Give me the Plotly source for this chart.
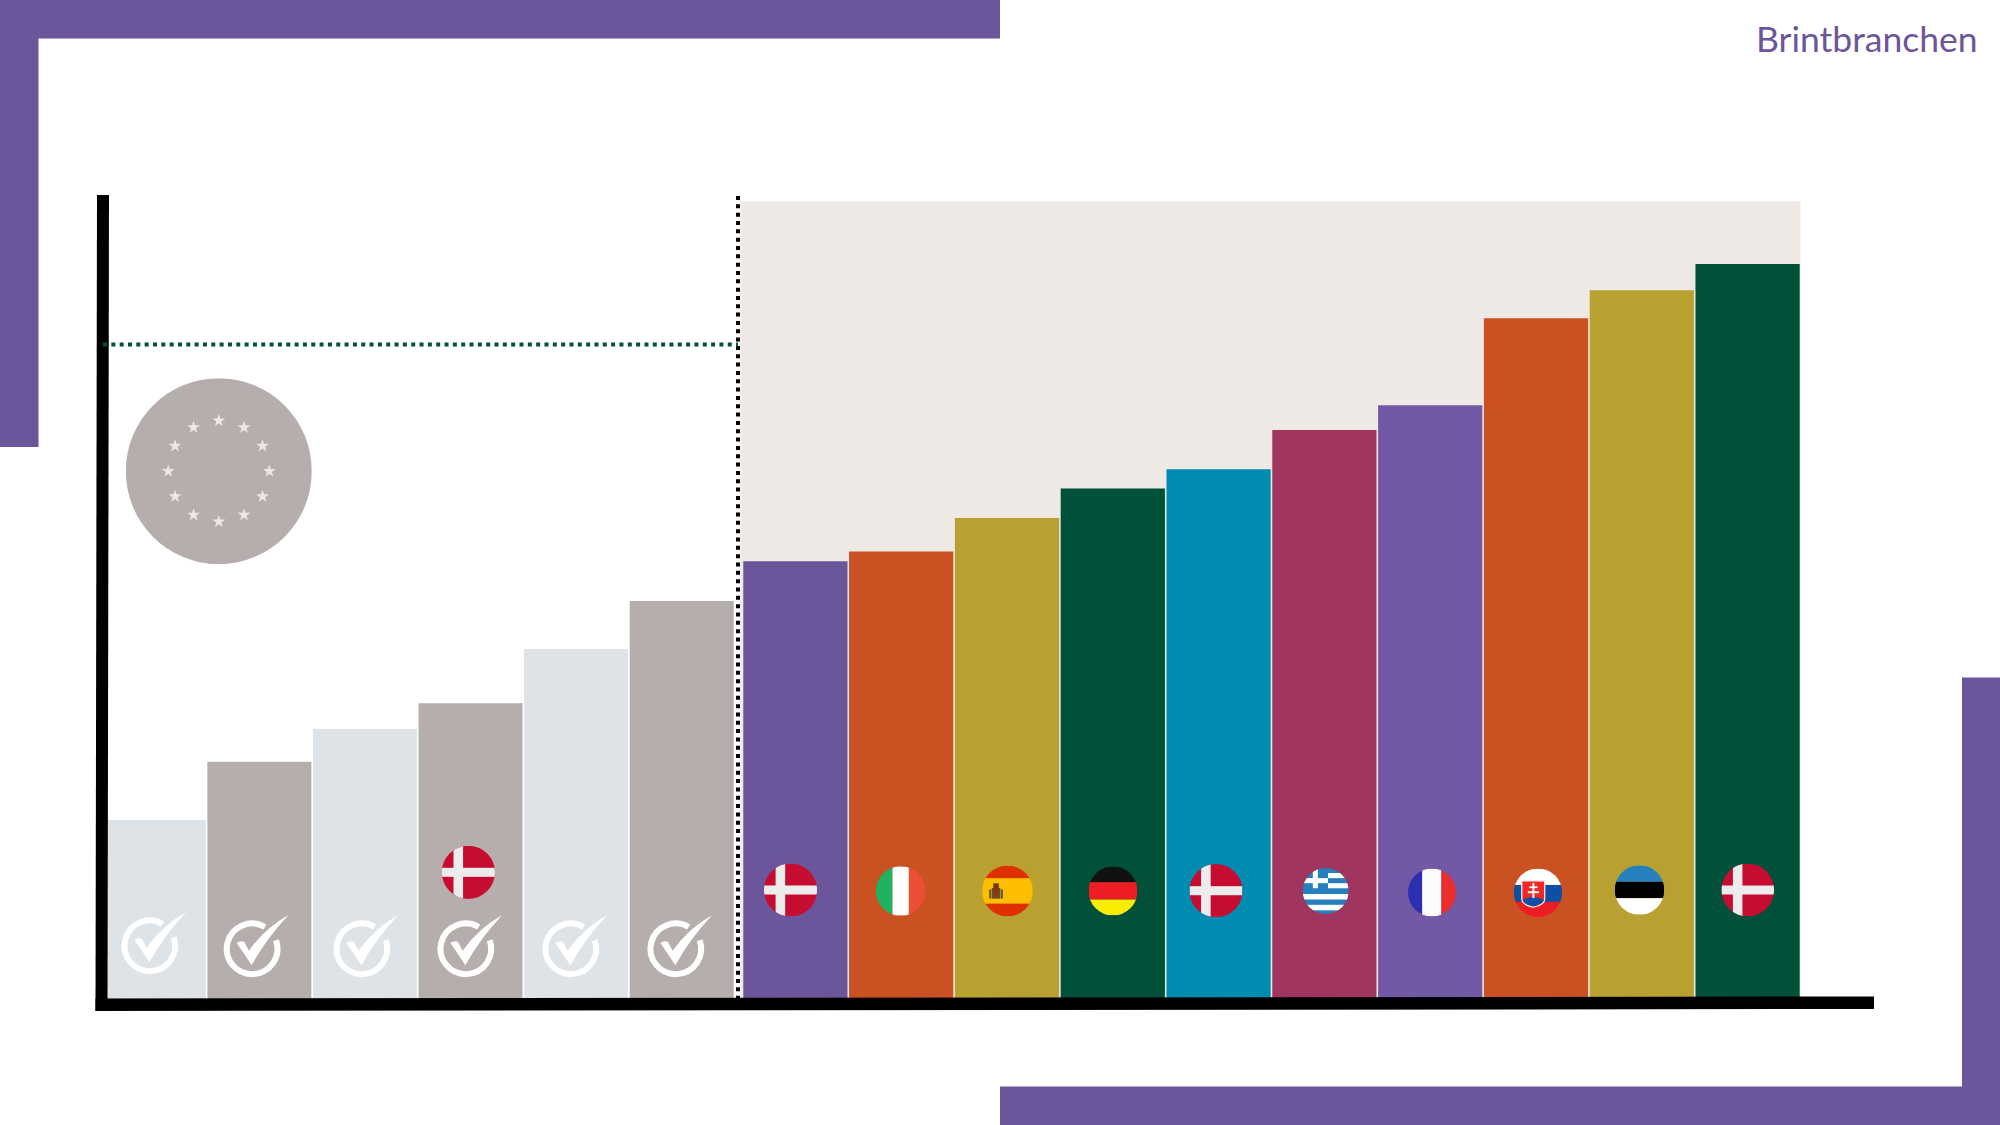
import base64, math
import plotly.graph_objects as go

W, H = 2000, 1125

# ---------- data ----------
approved_categories = ["Projekt 1", "Projekt 2", "Projekt 3", "Danmark A", "Projekt 5", "Projekt 6"]
approved_values = [22.4, 29.7, 33.8, 37.0, 43.8, 49.8]
approved_colors = ["#dde3e6", "#b6aeac", "#dde3e6", "#b6aeac", "#dde3e6", "#b6aeac"]

pending_categories = ["Danmark B", "Italien", "Spanien", "Tyskland", "Danmark C",
                      "Grækenland", "Frankrig", "Slovakiet", "Estland", "Danmark D"]
pending_values = [54.8, 56.0, 60.2, 63.9, 66.3, 71.2, 74.3, 85.2, 88.7, 92.0]
pending_colors = ["#6b559b", "#ca5122", "#b8a130", "#00503a", "#008bb0",
                  "#a0365f", "#7359a5", "#ca5122", "#b8a130", "#00503a"]

target_value = 81.9
brand = "Brintbranchen"
PURPLE = "#6b559b"


# ---------- helpers ----------
def fx(x):
    return x / W


def fy(y):
    return 1 - y / H


def rect(x0, y0, x1, y1, color):
    return dict(type="rect", xref="paper", yref="paper", x0=fx(x0), x1=fx(x1), y0=fy(y0), y1=fy(y1),
                fillcolor=color, line_width=0, layer="above")


def poly(points, color):
    d = "M " + " L ".join(f"{fx(x):.5f} {fy(y):.5f}" for x, y in points) + " Z"
    return dict(type="path", xref="paper", yref="paper", path=d, fillcolor=color, line_width=0, layer="above")


def uri(svg):
    return "data:image/svg+xml;base64," + base64.b64encode(svg.encode()).decode()


def flag_svg(body):
    return uri('<svg xmlns="http://www.w3.org/2000/svg" viewBox="-100 -100 200 200" width="200" height="200">'
               '<defs><clipPath id="c"><circle r="100"/></clipPath></defs>'
               f'<g clip-path="url(#c)">{body}</g></svg>')


def r(x0, y0, x1, y1, c):
    return f'<rect x="{x0}" y="{y0}" width="{x1 - x0}" height="{y1 - y0}" fill="{c}"/>'


def hbands(c1, c2, c3, a, b):
    return r(-100, -100, 100, a, c1) + r(-100, a, 100, b, c2) + r(-100, b, 100, 100, c3)


def vbands(c1, c2, c3, a, b):
    return r(-100, -100, a, 100, c1) + r(a, -100, b, 100, c2) + r(b, -100, 100, 100, c3)


DK = r(-100, -100, 100, 100, "#c60c30") + r(-56, -100, -20, 100, "#ececec") + r(-100, -17, 100, 17, "#ececec")
IT = vbands("#1fb25f", "#ffffff", "#ec4f37", -33, 33)
ES = (hbands("#e03000", "#ffbe00", "#e03000", -50, 50)
      + r(-62, -12, -28, 30, "#6e4a1c") + r(-56, -30, -34, -10, "#7a3a10")
      + r(-50, -8, -38, 14, "#a02818") + r(-72, -6, -64, 30, "#5c5a3a") + r(-26, -6, -18, 30, "#5c5a3a"))
DE = hbands("#111111", "#ee1c25", "#f9ed05", -36, 35)
GR = (r(-100, -100, 100, 100, "#2580bd")
      + r(10, -78, 100, -56, "#ffffff") + r(10, -34, 100, -12, "#ffffff")
      + r(-100, 13, 100, 37, "#ffffff") + r(-100, 60, 100, 84, "#ffffff")
      + r(-56, -100, -34, -12, "#ffffff") + r(-100, -56, 10, -34, "#ffffff"))
FR = vbands("#2b2fb0", "#fbfbfb", "#ec2d2d", -41, 39)
SK = (hbands("#ffffff", "#0f4fa3", "#ee1c25", -32, 38)
      + '<path d="M-67 -49 H28 V25 Q28 50 -19 60 Q-67 50 -67 25 Z" fill="#ee2a24" stroke="#f4f4f4" stroke-width="5"/>'
      + '<path d="M-63 30 Q-19 5 24 30 Q20 48 -19 56 Q-58 48 -63 30 Z" fill="#0f4fa3"/>'
      + r(-23, -40, -15, 22, "#ffffff") + r(-36, -26, -2, -19, "#ffffff") + r(-42, -6, 4, 2, "#ffffff"))
EE = hbands("#2580bd", "#000000", "#ffffff", -33, 33)

# centre x, centre y, radius in page pixels
flags = [
    (DK, 468.4, 872.3, 26.6), (DK, 790.5, 890, 26.6), (IT, 900.7, 891, 24.8),
    (ES, 1007.5, 891, 25.4), (DE, 1113, 891, 24.5), (DK, 1216, 890.7, 26.6),
    (GR, 1325.7, 891, 23), (FR, 1432, 892.5, 24), (SK, 1538, 892.7, 24.2),
    (EE, 1639.5, 890, 24.8), (DK, 1747.7, 890, 26.4),
]

check_svg = uri(
    '<svg xmlns="http://www.w3.org/2000/svg" viewBox="30 40 210 200" width="210" height="200">'
    '<path d="M165 82 A76 76 0 1 0 198 122" fill="none" stroke="#ffffff" stroke-width="18"/>'
    '<path d="M80 130 Q92 122 103 127 L117 153 Q165 85 236 46 Q170 115 125 197 Q105 165 80 130 Z" fill="#ffffff"/>'
    '</svg>')
checks = [(150, 946), (252.3, 949), (362, 949), (466, 949), (571, 949), (676, 949)]


def star(cx, cy, R):
    pts = []
    for k in range(10):
        a = -math.pi / 2 + k * math.pi / 5
        q = R if k % 2 == 0 else R * 0.382
        pts.append(f"{cx + q * math.cos(a):.2f},{cy + q * math.sin(a):.2f}")
    return f'<polygon points="{" ".join(pts)}" fill="#ece8e4"/>'


stars = "".join(star(50.5 * math.cos(k * math.pi / 6), 50.5 * math.sin(k * math.pi / 6), 6.8) for k in range(12))
eu_svg = uri('<svg xmlns="http://www.w3.org/2000/svg" viewBox="-93 -93 186 186" width="186" height="186">'
             f'<circle r="93" fill="#b6aeac"/>{stars}</svg>')


def image(src, x, y, w, h):
    return dict(source=src, xref="paper", yref="paper", x=fx(x), y=fy(y), sizex=w / W, sizey=h / H,
                xanchor="left", yanchor="top", sizing="stretch", layer="above")


images = [image(flag_svg(s), cx - rad, cy - rad, 2 * rad, 2 * rad) for s, cx, cy, rad in flags]
images += [image(check_svg, cx - 97 / 3, cy - 108 / 3, 70, 200 / 3) for cx, cy in checks]
images.append(image(eu_svg, 218.8 - 93, 471.2 - 93, 186, 186))

# ---------- figure ----------
fig = go.Figure()
fig.add_bar(x=approved_categories, y=approved_values, marker=dict(color=approved_colors, line=dict(width=0)),
            xaxis="x", yaxis="y", showlegend=False)
fig.add_bar(x=pending_categories, y=pending_values, marker=dict(color=pending_colors, line=dict(width=0)),
            xaxis="x2", yaxis="y", showlegend=False)

shapes = [
    # panel behind the right-hand bars
    dict(type="rect", xref="x2 domain", yref="y", x0=-0.002, x1=1, y0=0, y1=99.85, fillcolor="#eee9e5", line_width=0, layer="below"),
    # purple frame
    rect(0, 0, 1000, 38.5, PURPLE), rect(0, 0, 38.5, 447, PURPLE),
    rect(1000, 1086.5, 2000, 1125, PURPLE), rect(1962, 677.5, 2000, 1125, PURPLE),
    # axes
    poly([(97, 195), (109, 195), (107.5, 1011), (95.5, 1011)], "#000000"),
    poly([(95.5, 998.5), (1874, 996.5), (1874, 1009), (95.5, 1011)], "#000000"),
    # dotted divider and target
    dict(type="line", xref="paper", yref="paper", x0=fx(738), x1=fx(738), y0=fy(196), y1=fy(998),
         line=dict(color="#000000", width=4, dash="4px,4.33px"), layer="above"),
    dict(type="line", xref="paper", yref="y", x0=fx(103), x1=fx(738), y0=target_value, y1=target_value,
         line=dict(color="#00503a", width=4, dash="4px,4.33px"), layer="above"),
]

fig.update_layout(
    width=W, height=H, autosize=False,
    margin=dict(l=0, r=0, t=0, b=0),
    paper_bgcolor="#ffffff", plot_bgcolor="rgba(0,0,0,0)",
    bargap=0.015,
    xaxis=dict(domain=[fx(101), fx(734.5)], range=[-0.5, 5.5], visible=False, type="category", fixedrange=True),
    xaxis2=dict(domain=[fx(742.5), fx(1800.5)], range=[-0.5, 9.5], visible=False, type="category", anchor="y", fixedrange=True),
    yaxis=dict(domain=[1 - 999 / H, 1 - 200 / H], range=[0, 100], visible=False, fixedrange=True),
    shapes=shapes,
    images=images,
    annotations=[dict(text=brand, xref="paper", yref="paper", x=fx(1980), y=fy(39), xanchor="right", yanchor="middle",
                      showarrow=False, font=dict(family="Lato", size=35.5, color=PURPLE))],
)

fig.write_html("out.html", config={"displayModeBar": False},
               post_script="document.body.style.margin='0';document.body.style.overflow='hidden';")
